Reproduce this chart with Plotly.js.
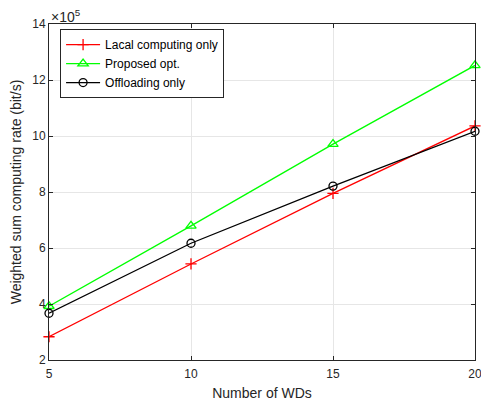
<!DOCTYPE html>
<html><head><meta charset="utf-8">
<script src="https://cdn.plot.ly/plotly-3.0.1.min.js"></script>
<style>html,body{margin:0;padding:0;background:#fff}</style>
</head><body><div id="c" style="width:481px;height:401px"></div>
<script>
const wds = [5, 10, 15, 20];
const localOnly = [2.83, 5.43, 7.95, 10.36];
const proposed = [3.92, 6.79, 9.71, 12.52];
const offloading = [3.67, 6.17, 8.21, 10.17];
const yTicks = [2, 4, 6, 8, 10, 12, 14];
const xTicks = [5, 10, 15, 20];

const font = "Liberation Sans, Arial, sans-serif";
const traces = [
  {x: wds, y: localOnly, name: "Lacal computing only", mode: "lines+markers", cliponaxis: false,
   line: {color: "#ff0000", width: 1.3}, marker: {symbol: "cross-thin-open", size: 8, color: "#ff0000", line: {color: "#ff0000", width: 1.3}}},
  {x: wds, y: proposed, name: "Proposed opt.", mode: "lines+markers", cliponaxis: false,
   line: {color: "#00ff00", width: 1.3}, marker: {symbol: "triangle-up-open", size: 9, color: "#00ff00", line: {color: "#00ff00", width: 1.3}}},
  {x: wds, y: offloading, name: "Offloading only", mode: "lines+markers", cliponaxis: false,
   line: {color: "#000000", width: 1.3}, marker: {symbol: "circle-open", size: 8, color: "#000000", line: {color: "#000000", width: 1.3}}}
];
const axisCommon = {
  showline: true, linecolor: "#262626", linewidth: 1, mirror: "ticks",
  ticks: "inside", ticklen: 4, tickcolor: "#262626",
  showgrid: true, gridcolor: "#e6e6e6", gridwidth: 1, zeroline: false,
  ticklabeloverflow: "allow",
  tickfont: {family: font, size: 12, color: "#262626"}
};
const layout = {
  width: 481, height: 401,
  margin: {l: 49, r: 6, t: 24, b: 41},
  paper_bgcolor: "#fff", plot_bgcolor: "#fff",
  showlegend: true,
  legend: {x: 0.026, y: 0.985, xanchor: "left", yanchor: "top",
    bgcolor: "#fff", bordercolor: "#262626", borderwidth: 1,
    font: {family: font, size: 12, color: "#000"}, tracegroupgap: 0, itemwidth: 34},
  xaxis: Object.assign({}, axisCommon, {range: [5, 20], tickvals: xTicks, ticklabelstandoff: 3,
    title: {text: "Number of WDs", font: {family: font, size: 14, color: "#262626"}, standoff: 7}}),
  yaxis: Object.assign({}, axisCommon, {range: [2, 14], tickvals: yTicks,
    title: {text: "Weighted sum computing rate (bit/s)", font: {family: font, size: 14, color: "#262626"}, standoff: 7}}),
  annotations: [{xref: "paper", yref: "paper", x: 0, y: 1, xanchor: "left", yanchor: "bottom",
    text: "×10<sup>5</sup>", showarrow: false, font: {family: font, size: 14, color: "#262626"}, yshift: -3}]
};
Plotly.newPlot("c", traces, layout, {displayModeBar: false, staticPlot: true});
</script></body></html>
